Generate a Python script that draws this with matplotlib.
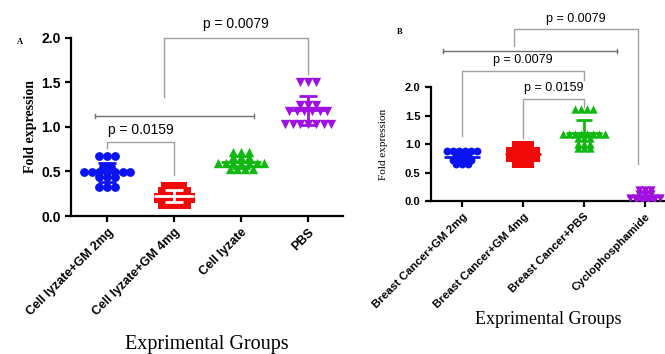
import numpy as np
import matplotlib
matplotlib.use("Agg")
import matplotlib.pyplot as plt

# panel A data
a_groups = ["Cell lyzate+GM 2mg", "Cell lyzate+GM 4mg", "Cell lyzate", "PBS"]
a_gm2 = [0.67, 0.67, 0.67, 0.55, 0.55, 0.49, 0.49, 0.49, 0.49, 0.49, 0.49, 0.49,
         0.44, 0.44, 0.44, 0.33, 0.33, 0.33]
a_gm4 = [0.33, 0.33, 0.33, 0.27, 0.27, 0.27, 0.27, 0.2, 0.2, 0.2, 0.2, 0.2,
         0.14, 0.14, 0.14, 0.14]
a_lyz = [0.72, 0.72, 0.72, 0.66, 0.66, 0.66, 0.59, 0.59, 0.59, 0.59, 0.59, 0.59, 0.59,
         0.53, 0.53, 0.53, 0.53]
a_pbs = [1.5, 1.5, 1.5, 1.24, 1.24, 1.24, 1.18, 1.18, 1.18, 1.18, 1.18, 1.18,
         1.03, 1.03, 1.03, 1.03, 1.03, 1.03, 1.03]

# panel B data
b_groups = ["Breast Cancer+GM 2mg", "Breast Cancer+GM 4mg", "Breast Cancer+PBS", "Cyclophosphamide"]
b_gm2 = [0.88] * 6 + [0.8] * 3 + [0.72] * 4 + [0.65] * 3
b_gm4 = [0.96] * 3 + [0.86] * 5 + [0.78] * 5 + [0.67] * 3
b_pbs = [1.62] * 4 + [1.17] * 8 + [1.1] * 3 + [1.0] * 3 + [0.93] * 3
b_cyc = [0.2] * 3 + [0.13] * 3 + [0.05] * 6 + [0.02] * 4

colors = ["#0a14f0", "#f00a0a", "#12b812", "#a010e0"]
markers = ["o", "s", "^", "v"]

SANS = "Liberation Sans"
SERIF = "Liberation Serif"


def spread(vals, step):
    vals = np.array(vals)
    xs = np.zeros(len(vals))
    for v in np.unique(vals):
        idx = np.where(vals == v)[0]
        n = len(idx)
        xs[idx] = (np.arange(n) - (n - 1) / 2.0) * step
    return xs


def dotplot(ax, data, step, sizes, bar_colors):
    for i, vals in enumerate(data):
        xs = i + spread(vals, step)
        ax.scatter(xs, vals, s=sizes[i], marker=markers[i], color=colors[i], zorder=3, linewidths=0)
        m = np.mean(vals)
        sd = np.std(vals, ddof=1)
        c = bar_colors[i]
        ax.hlines(m, i - 0.3, i + 0.3, color=c, lw=2, zorder=4)
        ax.hlines([m - sd, m + sd], i - 0.13, i + 0.13, color=c, lw=2, zorder=4)
        ax.vlines(i, m - sd, m + sd, color=c, lw=2, zorder=4)


def bracket(ax, x1, x2, ytop, y1, y2, text, ty, fs):
    ax.plot([x1, x1, x2, x2], [y1, ytop, ytop, y2], color="#a0a0a0", lw=1, clip_on=False)
    ax.text((x1 + x2) / 2.0, ty, text, ha="center", va="center", fontsize=fs,
            family=SANS, clip_on=False)


def capline(ax, x1, x2, y, h):
    ax.plot([x1, x2], [y, y], color="#707070", lw=1, clip_on=False)
    ax.plot([x1, x1], [y - h, y + h], color="#707070", lw=1, clip_on=False)
    ax.plot([x2, x2], [y - h, y + h], color="#707070", lw=1, clip_on=False)


def style(ax, labels, xfs, yfs):
    for s in ["top", "right"]:
        ax.spines[s].set_visible(False)
    for s in ["left", "bottom"]:
        ax.spines[s].set_linewidth(1.6)
    ax.set_ylim(0, 2.0)
    ax.set_yticks([0, 0.5, 1.0, 1.5, 2.0])
    ax.set_yticklabels(["0.0", "0.5", "1.0", "1.5", "2.0"], fontsize=yfs,
                       fontweight="bold", family=SANS)
    ax.set_xticks(range(4))
    ax.set_xticklabels(labels, rotation=45, ha="right", rotation_mode="anchor",
                       fontsize=xfs, fontweight="bold", family=SANS)
    ax.tick_params(width=1.6, length=4)


fig = plt.figure(figsize=(6.65, 3.54), dpi=100)

# ---- A
ax1 = fig.add_axes([0.1068, 0.3898, 0.409, 0.5037])
dotplot(ax1, [a_gm2, a_gm4, a_lyz, a_pbs], 0.115, [40, 60, 45, 45],
        [colors[0], "white", colors[2], colors[3]])
style(ax1, a_groups, 9, 10)
ax1.set_xlim(-0.54, 3.52)
ax1.set_ylabel("Fold expression", family=SERIF, fontweight="bold", fontsize=10, labelpad=3)
ax1.set_xlabel("Exprimental Groups", family=SERIF, fontsize=14.5, labelpad=12)
bracket(ax1, 0, 1, 0.83, 0.76, 0.46, "p = 0.0159", 0.97, 10)
capline(ax1, -0.18, 2.19, 1.12, 0.02)
bracket(ax1, 0.85, 3.0, 2.0, 1.34, 1.59, "p = 0.0079", 2.15, 10)
fig.text(0.026, 0.875, "A", family=SERIF, fontweight="bold", fontsize=6)

# ---- B
ax2 = fig.add_axes([0.648, 0.432, 0.352, 0.322])
dotplot(ax2, [b_gm2, b_gm4, b_pbs, b_cyc], 0.1, [32, 50, 36, 36], colors)
style(ax2, b_groups, 8.2, 8)
ax2.set_xlim(-0.51, 3.33)
ax2.set_ylabel("Fold expression", family=SERIF, fontsize=8, labelpad=12)
ax2.set_xlabel("Exprimental Groups", family=SERIF, fontsize=13, labelpad=1)
bracket(ax2, 0, 2, 2.28, 1.14, 2.12, "p = 0.0079", 2.47, 9)
bracket(ax2, 1, 2, 1.79, 1.1, 1.65, "p = 0.0159", 1.98, 9)
capline(ax2, -0.31, 2.54, 2.63, 0.03)
bracket(ax2, 0.85, 2.88, 3.02, 2.72, 0.65, "", 3.2, 9)
ax2.text(1.86, 3.2, "p = 0.0079", ha="center", va="center", fontsize=9, family=SANS, clip_on=False)
fig.text(0.597, 0.905, "B", family=SERIF, fontweight="bold", fontsize=6)

fig.savefig("out.png", dpi=100)
